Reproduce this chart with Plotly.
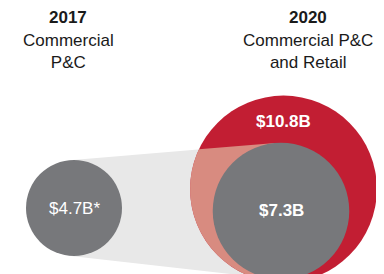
import math
import plotly.graph_objects as go

# ---- data ----
years = ["2017", "2020"]
segments = ["Commercial<br>P&C", "Commercial P&C<br>and Retail"]
commercial_values = [4.7, 7.3]          # $B
total_2020 = 10.8                       # $B (Commercial P&C and Retail)
value_labels = ["$4.7B*", "$7.3B", "$10.8B"]

# ---- layout / style ----
W, H = 384, 274
OFF = 8              # default page body margin of the html page
GREY = "#77787b"
RED = "#c21e33"
BAND = "#e8e8e8"
SALMON = "#d88b80"
FONT = "Liberation Sans, Arial, Helvetica, sans-serif"
TXT = "#1a1a1a"

BASE_R = 48.0        # px radius for 4.7
POW = 0.8


def radius(v):
    return BASE_R * (v / commercial_values[0]) ** POW


r1 = radius(commercial_values[0])
r2 = radius(commercial_values[1])
r3 = radius(total_2020)

c1 = (74.0, 208.0)
c2 = (281.0, 211.0)
c3 = (283.5, 189.0)


def circle_shape(c, r, color):
    return dict(type="circle", xref="x", yref="y",
                x0=c[0] - r, x1=c[0] + r, y0=c[1] - r, y1=c[1] + r,
                fillcolor=color, line=dict(width=0), layer="above")


# external tangent points between circle 1 and circle 2
dx, dy = c2[0] - c1[0], c2[1] - c1[1]
D = math.hypot(dx, dy)
ux, uy = dx / D, dy / D
ct = (r1 - r2) / D
st = math.sqrt(1 - ct * ct)
band = []
for s in (1, -1):
    nx = ux * ct - s * uy * st
    ny = uy * ct + s * ux * st
    band.append(((c1[0] + r1 * nx, c1[1] + r1 * ny), (c2[0] + r2 * nx, c2[1] + r2 * ny)))
quad = [band[0][0], band[0][1], band[1][1], band[1][0]]
area = sum(quad[i][0] * quad[(i + 1) % 4][1] - quad[(i + 1) % 4][0] * quad[i][1] for i in range(4))
if area < 0:
    quad = quad[::-1]


def clip(subject, clipper):
    def inside(p, a, b):
        return (b[0] - a[0]) * (p[1] - a[1]) - (b[1] - a[1]) * (p[0] - a[0]) >= 0

    def inter(p, q, a, b):
        x1, y1 = p; x2, y2 = q; x3, y3 = a; x4, y4 = b
        den = (x1 - x2) * (y3 - y4) - (y1 - y2) * (x3 - x4)
        t = ((x1 - x3) * (y3 - y4) - (y1 - y3) * (x3 - x4)) / den
        return (x1 + t * (x2 - x1), y1 + t * (y2 - y1))

    out = subject
    n = len(clipper)
    for i in range(n):
        a, b = clipper[i], clipper[(i + 1) % n]
        inp = out
        out = []
        if not inp:
            break
        s = inp[-1]
        for e in inp:
            if inside(e, a, b):
                if not inside(s, a, b):
                    out.append(inter(s, e, a, b))
                out.append(e)
            elif inside(s, a, b):
                out.append(inter(s, e, a, b))
            s = e
    return out


N = 240
red_poly = [(c3[0] + r3 * math.cos(2 * math.pi * k / N), c3[1] + r3 * math.sin(2 * math.pi * k / N)) for k in range(N)]
area_r = sum(red_poly[i][0] * red_poly[(i + 1) % N][1] - red_poly[(i + 1) % N][0] * red_poly[i][1] for i in range(N))
if area_r < 0:
    red_poly = red_poly[::-1]
salmon = clip(red_poly, quad)


def path_of(pts):
    return "M " + " L ".join(f"{x:.2f},{y:.2f}" for x, y in pts) + " Z"


shapes = [
    dict(type="path", xref="x", yref="y", path=path_of(quad), fillcolor=BAND, line=dict(width=0), layer="above"),
    circle_shape(c3, r3, RED),
    dict(type="path", xref="x", yref="y", path=path_of(salmon), fillcolor=SALMON, line=dict(width=0), layer="above"),
    circle_shape(c1, r1, GREY),
    circle_shape(c2, r2, GREY),
]

annotations = []
head_x = [68, 308]
for i in range(2):
    annotations.append(dict(x=head_x[i], y=17.5, xref="x", yref="y", text=f"<b>{years[i]}</b>",
                            showarrow=False, font=dict(family=FONT, size=17, color=TXT)))
    annotations.append(dict(x=head_x[i], y=51, xref="x", yref="y", text=segments[i], align="center",
                            showarrow=False, font=dict(family=FONT, size=17, color=TXT)))

annotations.append(dict(x=c1[0], y=208.5, xref="x", yref="y", text=value_labels[0], showarrow=False,
                        font=dict(family=FONT, size=17, color="white")))
annotations.append(dict(x=c2[0], y=210.5, xref="x", yref="y", text=f"<b>{value_labels[1]}</b>", showarrow=False,
                        font=dict(family=FONT, size=17, color="white")))
annotations.append(dict(x=c3[0], y=121, xref="x", yref="y", text=f"<b>{value_labels[2]}</b>", showarrow=False,
                        font=dict(family=FONT, size=17, color="white")))

fig = go.Figure()
fig.add_trace(go.Scatter(x=[OFF, W], y=[OFF, H], mode="markers", marker=dict(opacity=0),
                         hoverinfo="skip", showlegend=False))
fig.update_layout(
    width=W - OFF, height=H - OFF, margin=dict(l=0, r=0, t=0, b=0, pad=0),
    paper_bgcolor="white", plot_bgcolor="white",
    xaxis=dict(range=[OFF, W], visible=False, fixedrange=True),
    yaxis=dict(range=[H, OFF], visible=False, fixedrange=True),
    shapes=shapes, annotations=annotations, showlegend=False,
)
fig.write_html("out.html")
